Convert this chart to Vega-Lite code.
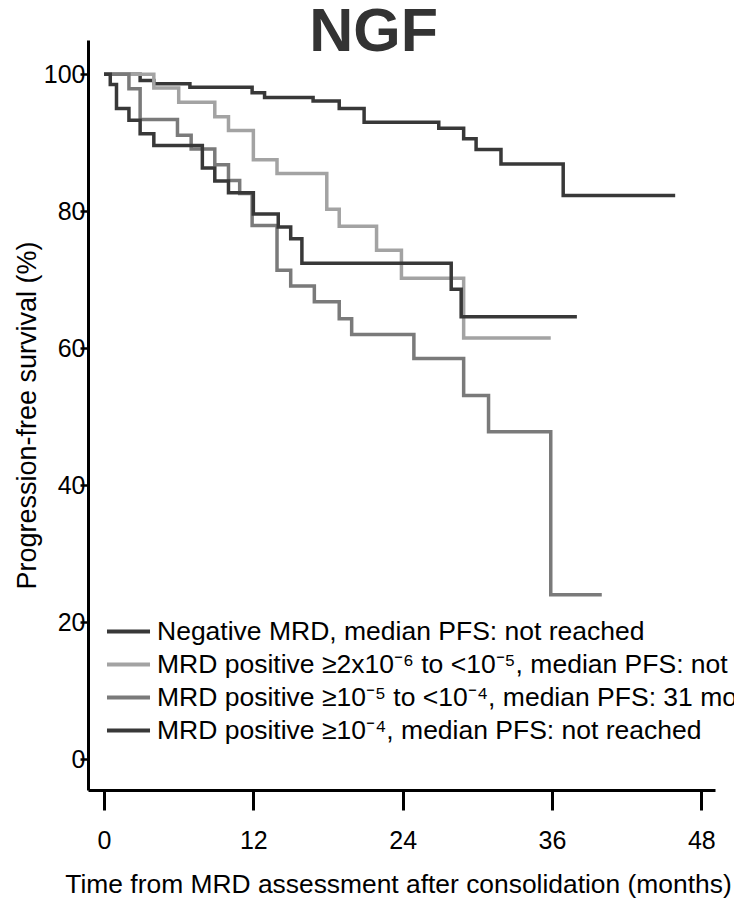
{
  "$schema": "https://vega.github.io/schema/vega-lite/v6.json",
  "width": 627,
  "height": 750,
  "autosize": {"type": "none"},
  "padding": {"left": 88, "top": 40, "right": 19, "bottom": 108},
  "background": "white",
  "title": {"text": "NGF", "fontSize": 61, "fontWeight": "bold", "font": "Liberation Sans", "color": "#333333", "anchor": "middle", "baseline": "alphabetic", "offset": -72, "dx": -28},
  "config": {"view": {"stroke": null}, "font": "Liberation Sans"},
  "data": {"values": [
    {"group": "Negative MRD, median PFS: not reached", "t": 0, "s": 100},
    {"group": "Negative MRD, median PFS: not reached", "t": 2.9, "s": 99.1},
    {"group": "Negative MRD, median PFS: not reached", "t": 4.0, "s": 98.6},
    {"group": "Negative MRD, median PFS: not reached", "t": 6.9, "s": 98.1},
    {"group": "Negative MRD, median PFS: not reached", "t": 11.9, "s": 97.3},
    {"group": "Negative MRD, median PFS: not reached", "t": 12.9, "s": 96.6},
    {"group": "Negative MRD, median PFS: not reached", "t": 16.8, "s": 96.1},
    {"group": "Negative MRD, median PFS: not reached", "t": 18.9, "s": 95.0},
    {"group": "Negative MRD, median PFS: not reached", "t": 20.9, "s": 93.0},
    {"group": "Negative MRD, median PFS: not reached", "t": 26.9, "s": 92.1},
    {"group": "Negative MRD, median PFS: not reached", "t": 28.9, "s": 90.6},
    {"group": "Negative MRD, median PFS: not reached", "t": 29.9, "s": 89.0},
    {"group": "Negative MRD, median PFS: not reached", "t": 31.9, "s": 86.9},
    {"group": "Negative MRD, median PFS: not reached", "t": 36.9, "s": 82.3},
    {"group": "Negative MRD, median PFS: not reached", "t": 45.9, "s": 82.3},
    {"group": "MRD positive ≥2x10⁻⁶ to <10⁻⁵, median PFS: not reached", "t": 0, "s": 100},
    {"group": "MRD positive ≥2x10⁻⁶ to <10⁻⁵, median PFS: not reached", "t": 4.0, "s": 98.0},
    {"group": "MRD positive ≥2x10⁻⁶ to <10⁻⁵, median PFS: not reached", "t": 6.0, "s": 95.9},
    {"group": "MRD positive ≥2x10⁻⁶ to <10⁻⁵, median PFS: not reached", "t": 8.9, "s": 93.8},
    {"group": "MRD positive ≥2x10⁻⁶ to <10⁻⁵, median PFS: not reached", "t": 10.0, "s": 91.8},
    {"group": "MRD positive ≥2x10⁻⁶ to <10⁻⁵, median PFS: not reached", "t": 12.0, "s": 87.5},
    {"group": "MRD positive ≥2x10⁻⁶ to <10⁻⁵, median PFS: not reached", "t": 13.9, "s": 85.5},
    {"group": "MRD positive ≥2x10⁻⁶ to <10⁻⁵, median PFS: not reached", "t": 17.9, "s": 80.3},
    {"group": "MRD positive ≥2x10⁻⁶ to <10⁻⁵, median PFS: not reached", "t": 18.9, "s": 77.8},
    {"group": "MRD positive ≥2x10⁻⁶ to <10⁻⁵, median PFS: not reached", "t": 21.9, "s": 74.3},
    {"group": "MRD positive ≥2x10⁻⁶ to <10⁻⁵, median PFS: not reached", "t": 23.9, "s": 70.2},
    {"group": "MRD positive ≥2x10⁻⁶ to <10⁻⁵, median PFS: not reached", "t": 28.9, "s": 61.5},
    {"group": "MRD positive ≥2x10⁻⁶ to <10⁻⁵, median PFS: not reached", "t": 35.9, "s": 61.5},
    {"group": "MRD positive ≥10⁻⁵ to <10⁻⁴, median PFS: 31 months", "t": 0, "s": 100},
    {"group": "MRD positive ≥10⁻⁵ to <10⁻⁴, median PFS: 31 months", "t": 2.0, "s": 97.9},
    {"group": "MRD positive ≥10⁻⁵ to <10⁻⁴, median PFS: 31 months", "t": 2.9, "s": 93.4},
    {"group": "MRD positive ≥10⁻⁵ to <10⁻⁴, median PFS: 31 months", "t": 5.9, "s": 91.1},
    {"group": "MRD positive ≥10⁻⁵ to <10⁻⁴, median PFS: 31 months", "t": 7.0, "s": 89.1},
    {"group": "MRD positive ≥10⁻⁵ to <10⁻⁴, median PFS: 31 months", "t": 8.9, "s": 86.8},
    {"group": "MRD positive ≥10⁻⁵ to <10⁻⁴, median PFS: 31 months", "t": 10.0, "s": 84.5},
    {"group": "MRD positive ≥10⁻⁵ to <10⁻⁴, median PFS: 31 months", "t": 10.9, "s": 82.6},
    {"group": "MRD positive ≥10⁻⁵ to <10⁻⁴, median PFS: 31 months", "t": 11.9, "s": 77.9},
    {"group": "MRD positive ≥10⁻⁵ to <10⁻⁴, median PFS: 31 months", "t": 13.9, "s": 71.4},
    {"group": "MRD positive ≥10⁻⁵ to <10⁻⁴, median PFS: 31 months", "t": 15.0, "s": 69.1},
    {"group": "MRD positive ≥10⁻⁵ to <10⁻⁴, median PFS: 31 months", "t": 16.9, "s": 66.8},
    {"group": "MRD positive ≥10⁻⁵ to <10⁻⁴, median PFS: 31 months", "t": 18.9, "s": 64.3},
    {"group": "MRD positive ≥10⁻⁵ to <10⁻⁴, median PFS: 31 months", "t": 19.9, "s": 62.0},
    {"group": "MRD positive ≥10⁻⁵ to <10⁻⁴, median PFS: 31 months", "t": 24.9, "s": 58.5},
    {"group": "MRD positive ≥10⁻⁵ to <10⁻⁴, median PFS: 31 months", "t": 28.9, "s": 53.1},
    {"group": "MRD positive ≥10⁻⁵ to <10⁻⁴, median PFS: 31 months", "t": 30.9, "s": 47.8},
    {"group": "MRD positive ≥10⁻⁵ to <10⁻⁴, median PFS: 31 months", "t": 35.9, "s": 24.0},
    {"group": "MRD positive ≥10⁻⁵ to <10⁻⁴, median PFS: 31 months", "t": 40.0, "s": 24.0},
    {"group": "MRD positive ≥10⁻⁴, median PFS: not reached", "t": 0, "s": 100},
    {"group": "MRD positive ≥10⁻⁴, median PFS: not reached", "t": 0.5, "s": 98.5},
    {"group": "MRD positive ≥10⁻⁴, median PFS: not reached", "t": 1.0, "s": 95.0},
    {"group": "MRD positive ≥10⁻⁴, median PFS: not reached", "t": 2.0, "s": 93.3},
    {"group": "MRD positive ≥10⁻⁴, median PFS: not reached", "t": 2.9, "s": 91.3},
    {"group": "MRD positive ≥10⁻⁴, median PFS: not reached", "t": 4.0, "s": 89.6},
    {"group": "MRD positive ≥10⁻⁴, median PFS: not reached", "t": 7.9, "s": 86.3},
    {"group": "MRD positive ≥10⁻⁴, median PFS: not reached", "t": 8.9, "s": 84.4},
    {"group": "MRD positive ≥10⁻⁴, median PFS: not reached", "t": 10.0, "s": 82.7},
    {"group": "MRD positive ≥10⁻⁴, median PFS: not reached", "t": 12.0, "s": 79.6},
    {"group": "MRD positive ≥10⁻⁴, median PFS: not reached", "t": 14.0, "s": 77.7},
    {"group": "MRD positive ≥10⁻⁴, median PFS: not reached", "t": 15.0, "s": 76.0},
    {"group": "MRD positive ≥10⁻⁴, median PFS: not reached", "t": 15.9, "s": 72.4},
    {"group": "MRD positive ≥10⁻⁴, median PFS: not reached", "t": 27.9, "s": 68.6},
    {"group": "MRD positive ≥10⁻⁴, median PFS: not reached", "t": 28.7, "s": 64.6},
    {"group": "MRD positive ≥10⁻⁴, median PFS: not reached", "t": 38.0, "s": 64.6}
  ]},
  "mark": {"type": "line", "interpolate": "step-after", "strokeWidth": 3.5},
  "encoding": {
    "x": {
      "field": "t", "type": "quantitative",
      "scale": {"domain": [-1.29, 49.1], "nice": false, "zero": false},
      "axis": {
        "values": [0, 12, 24, 36, 48],
        "title": "Time from MRD assessment after consolidation (months)",
        "grid": false, "labelFlush": false,
        "domainColor": "#000000", "domainWidth": 3,
        "tickColor": "#000000", "tickWidth": 3, "tickSize": 20,
        "labelFont": "Liberation Sans", "labelFontSize": 25, "labelColor": "#000000", "labelPadding": 18,
        "titleFont": "Liberation Sans", "titleFontSize": 26.4, "titleFontWeight": "normal", "titleColor": "#000000", "titlePadding": 18, "titleX": 310
      }
    },
    "y": {
      "field": "s", "type": "quantitative",
      "scale": {"domain": [-4.5, 105], "nice": false, "zero": false},
      "axis": {
        "values": [0, 20, 40, 60, 80, 100],
        "title": "Progression-free survival (%)",
        "grid": false, "labelFlush": false,
        "domainColor": "#000000", "domainWidth": 3,
        "tickColor": "#000000", "tickWidth": 2.5, "tickSize": 8,
        "labelFont": "Liberation Sans", "labelFontSize": 25, "labelColor": "#000000", "labelPadding": -5,
        "titleFont": "Liberation Sans", "titleFontSize": 27, "titleFontWeight": "normal", "titleColor": "#000000", "titlePadding": 2
      }
    },
    "color": {
      "field": "group", "type": "nominal",
      "scale": {
        "domain": [
          "Negative MRD, median PFS: not reached",
          "MRD positive ≥2x10⁻⁶ to <10⁻⁵, median PFS: not reached",
          "MRD positive ≥10⁻⁵ to <10⁻⁴, median PFS: 31 months",
          "MRD positive ≥10⁻⁴, median PFS: not reached"
        ],
        "range": ["#383838", "#a3a3a3", "#7a7a7a", "#383838"]
      },
      "legend": {
        "orient": "none", "legendX": 21, "legendY": 572, "title": null,
        "symbolType": "M-1.229,0L1.229,0", "symbolSize": 1225, "symbolStrokeWidth": 4,
        "symbolFillColor": "transparent",
        "labelFont": "Liberation Sans", "labelFontSize": 26.5, "labelColor": "#000000",
        "labelOffset": 9, "labelLimit": 1000, "rowPadding": 0, "padding": 0
      }
    }
  }
}
